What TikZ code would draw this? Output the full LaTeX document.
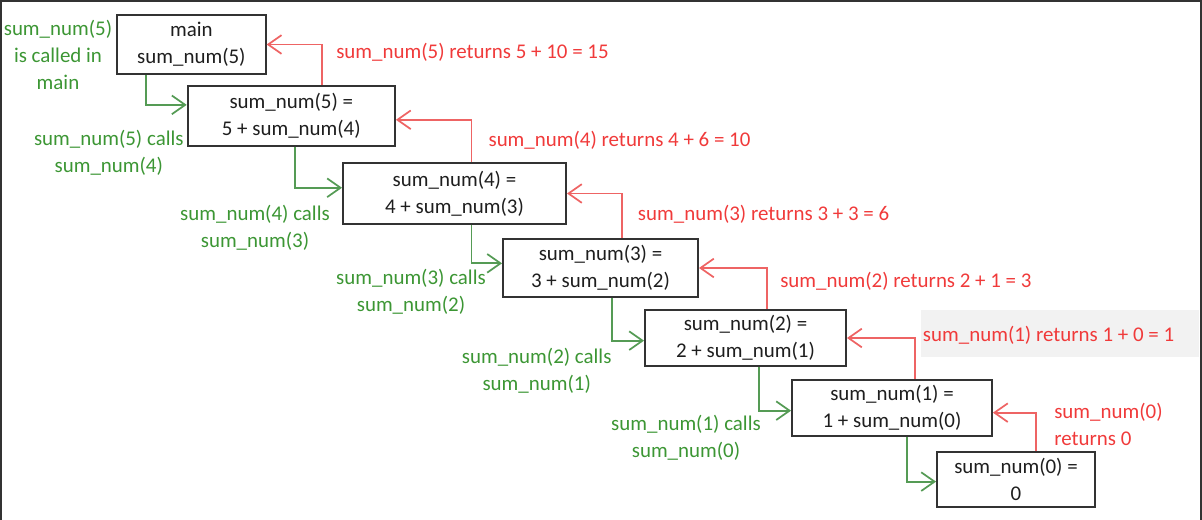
\documentclass[tikz,border=0pt]{standalone}
\usepackage{fontspec}
\setmainfont{Carlito}
\usepackage{xcolor}
\usepackage{tikz}
\usetikzlibrary{
    arrows.meta
}
\definecolor{boxline}{RGB}{51,51,51}
\definecolor{boxtext}{RGB}{30,30,30}
\definecolor{callgreen}{RGB}{60,150,52}
\definecolor{callline}{RGB}{85,155,85}
\definecolor{retred}{RGB}{240,58,58}
\definecolor{retline}{RGB}{238,100,100}
\definecolor{notebg}{RGB}{242,242,242}

\begin{document}
\begin{tikzpicture}[x=0.75pt,y=-0.75pt,>={Straight Barb[length=10pt,width=14pt]},font=\fontsize{15.7}{20.25}\selectfont]
    \tikzstyle{frame}=[draw=boxline, line width=1.6pt]
    \tikzstyle{box}=[draw=boxline, text=boxtext, line width=1.4pt, align=center, inner sep=2pt]
    \tikzstyle{call}=[->, draw=callline, line width=1.3pt]
    \tikzstyle{ret}=[->, draw=retline, line width=1.3pt]
    \tikzstyle{call label}=[text=callgreen, align=center, inner sep=0pt]
    \tikzstyle{ret label}=[text=retred, anchor=west, align=left, inner sep=0pt]

    \useasboundingbox (0,0) rectangle (1202,520);
    \draw[frame] (1,520) -- (1,1.2) -- (1200.8,1.2) -- (1200.8,520);
    \fill[notebg] (921,310) rectangle (1199,356.7);

    \node[box, minimum width=111.5pt, minimum height=44.3pt] (main) at (191.4, 44.5) {main\\sum\_num(5)};
    \node[box, minimum width=155.5pt, minimum height=45pt] (S5) at (291.3, 115.8) {sum\_num(5) =\\5 + sum\_num(4)};
    \node[box, minimum width=167.3pt, minimum height=45.8pt] (S4) at (454.5, 193.5) {sum\_num(4) =\\4 + sum\_num(3)};
    \node[box, minimum width=146.3pt, minimum height=43.5pt] (S3) at (600.5, 268) {sum\_num(3) =\\3 + sum\_num(2)};
    \node[box, minimum width=150.8pt, minimum height=42pt] (S2) at (745.5, 338) {sum\_num(2) =\\2 + sum\_num(1)};
    \node[box, minimum width=150pt, minimum height=42pt] (S1) at (892, 408) {sum\_num(1) =\\1 + sum\_num(0)};
    \node[box, minimum width=118.5pt, minimum height=41pt] (S0) at (1016, 479.5) {sum\_num(0) =\\0};

    \draw[call] ([xshift=22.3pt]main.south west) |- ([yshift=8.2pt]S5.west);
    \draw[call] ([xshift=81pt]S5.south west) |- ([yshift=4.3pt]S4.west);
    \draw[call] ([xshift=97pt]S4.south west) |- ([yshift=3.5pt]S3.west);
    \draw[call] ([xshift=82.7pt]S3.south west) |- ([yshift=-2pt]S2.west);
    \draw[call] ([xshift=86.2pt]S2.south west) |- ([yshift=-2pt]S1.west);
    \draw[call] ([xshift=87.2pt]S1.south west) |- ([yshift=-1.6pt]S0.west);

    \draw[ret] ([xshift=101.7pt]S5.north west) |- (main.east);
    \draw[ret] ([xshift=97pt]S4.north west) |- ([yshift=-3pt]S5.east);
    \draw[ret] ([xshift=90.2pt]S3.north west) |- (S4.east);
    \draw[ret] ([xshift=92pt]S2.north west) |- (S3.east);
    \draw[ret] ([xshift=92.8pt]S1.north west) |- (S2.east);
    \draw[ret] ([xshift=75.2pt]S0.north west) |- ([yshift=-3.5pt]S1.east);

    \node[call label] (Cmain) at (58, 55) {sum\_num(5)\\is called in\\main};
    \node[call label] (C5) at (108.8, 153) {sum\_num(5) calls\\sum\_num(4)};
    \node[call label] (C4) at (255, 228) {sum\_num(4) calls\\sum\_num(3)};
    \node[call label] (C3) at (411, 292) {sum\_num(3) calls\\sum\_num(2)};
    \node[call label] (C2) at (536.7, 371) {sum\_num(2) calls\\sum\_num(1)};
    \node[call label] (C1) at (686, 438) {sum\_num(1) calls\\sum\_num(0)};

    \node[ret label] (R5) at (336, 52) {sum\_num(5) returns 5 + 10 = 15};
    \node[ret label] (R4) at (488.3, 140.7) {sum\_num(4) returns 4 + 6 = 10};
    \node[ret label] (R3) at (637.7, 214) {sum\_num(3) returns 3 + 3 = 6};
    \node[ret label] (R2) at (780, 281) {sum\_num(2) returns 2 + 1 = 3};
    \node[ret label] (R1) at (922.7, 335.7) {sum\_num(1) returns 1 + 0 = 1};
    \node[ret label] (R0) at (1054, 424) {sum\_num(0)\\returns 0};
\end{tikzpicture}
\end{document}
